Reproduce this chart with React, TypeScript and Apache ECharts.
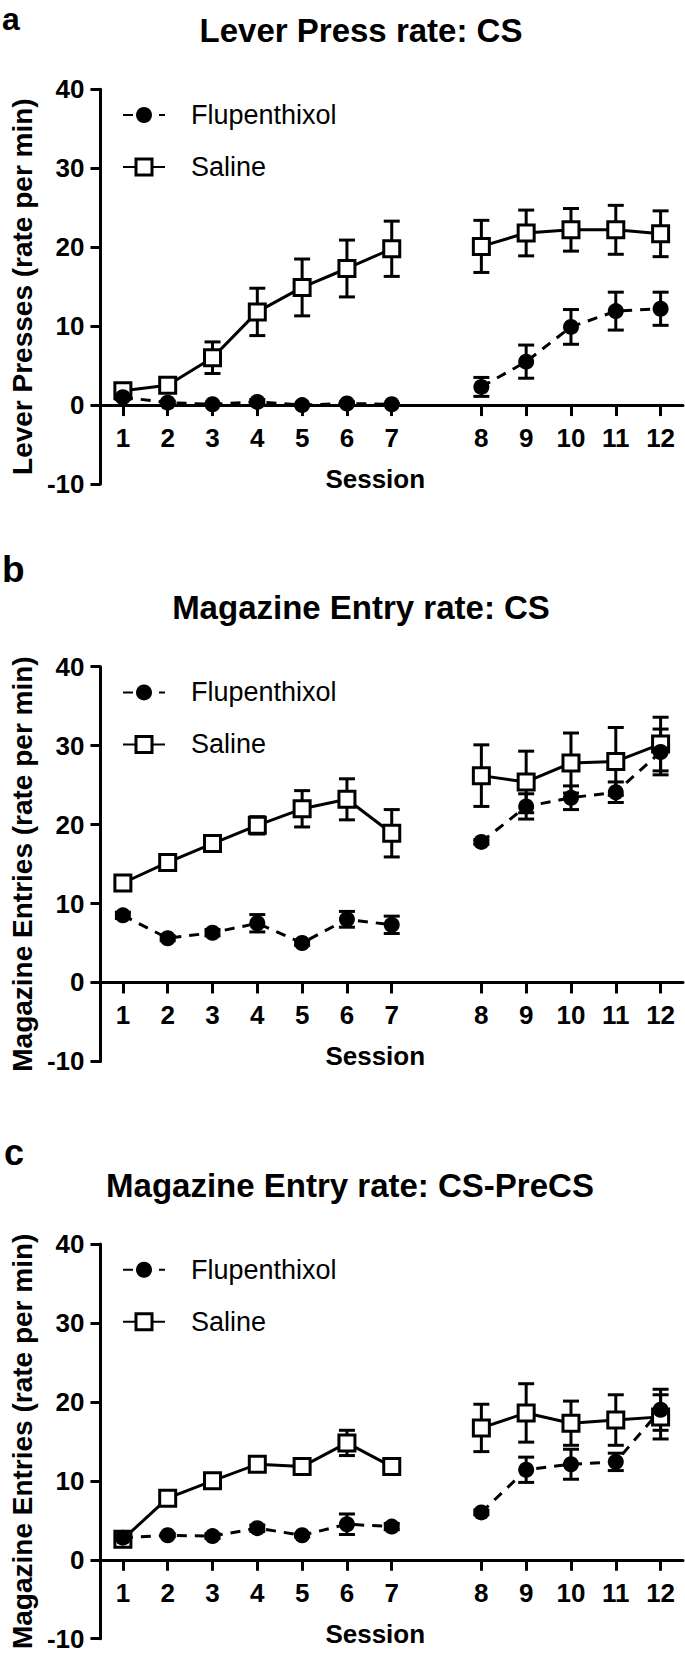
import React, { useEffect, useRef } from "react";
import * as echarts from "echarts";

// ---- Data ----
const sessions = ["1", "2", "3", "4", "5", "6", "7", "8", "9", "10", "11", "12"];
// category slots on the x axis: an empty slot separates session 7 from 8
const axisCategories = ["1", "2", "3", "4", "5", "6", "7", "", "8", "9", "10", "11", "12"];
const yMin = -10;
const yMax = 40;
const yInterval = 10;

const panelLetters = ["a", "b", "c"];
const panelTitles = ["Lever Press rate: CS", "Magazine Entry rate: CS", "Magazine Entry rate: CS-PreCS"];
const yAxisNames = ["Lever Presses (rate per min)", "Magazine Entries (rate per min)", "Magazine Entries (rate per min)"];
const xAxisName = "Session";
const seriesNames = ["Flupenthixol", "Saline"];

// Panel a: Lever Press rate, CS
const leverFlu = [1.0, 0.3, 0.1, 0.4, 0.0, 0.2, 0.1, 2.3, 5.5, 9.9, 11.9, 12.2];
const leverFluErr = [0.3, 0.2, 0.1, 0.3, 0.1, 0.2, 0.1, 1.2, 2.1, 2.2, 2.4, 2.1];
const leverSal = [1.8, 2.5, 6.0, 11.8, 14.9, 17.3, 19.8, 20.1, 21.8, 22.2, 22.2, 21.7];
const leverSalErr = [0.4, 0.5, 2.0, 3.0, 3.6, 3.6, 3.5, 3.3, 2.9, 2.7, 3.1, 2.9];

// Panel b: Magazine Entry rate, CS
const magFlu = [8.5, 5.6, 6.3, 7.5, 5.0, 8.0, 7.3, 17.8, 22.3, 23.4, 24.1, 29.2];
const magFluErr = [0.4, 0.3, 0.4, 1.1, 0.3, 1.0, 1.1, 0.3, 1.6, 1.5, 1.3, 2.9];
const magSal = [12.6, 15.2, 17.6, 19.9, 22.0, 23.2, 18.9, 26.2, 25.4, 27.8, 28.0, 30.2];
const magSalErr = [0.6, 0.8, 1.0, 1.1, 2.3, 2.6, 3.0, 3.9, 3.9, 3.8, 4.3, 3.4];

// Panel c: Magazine Entry rate, CS-PreCS
const precsFlu = [2.8, 3.1, 3.0, 4.0, 3.1, 4.5, 4.2, 6.0, 11.4, 12.1, 12.4, 19.0];
const precsFluErr = [0.2, 0.2, 0.3, 0.4, 0.2, 1.3, 0.4, 0.3, 1.6, 1.9, 1.1, 2.6];
const precsSal = [2.6, 7.8, 10.0, 12.1, 11.8, 14.8, 11.8, 16.7, 18.6, 17.3, 17.7, 18.1];
const precsSalErr = [0.3, 0.5, 0.6, 0.5, 1.0, 1.6, 0.9, 3.0, 3.7, 2.8, 3.2, 2.8];

const panelData = [
  { flu: leverFlu, fluErr: leverFluErr, sal: leverSal, salErr: leverSalErr },
  { flu: magFlu, fluErr: magFluErr, sal: magSal, salErr: magSalErr },
  { flu: precsFlu, fluErr: precsFluErr, sal: precsSal, salErr: precsSalErr },
];

// ---- Layout ----
const W = 685;
const H = 1659;
const FONT = '"Liberation Sans", Arial, Helvetica, sans-serif';
const panelOffsets = [0, 577.4, 1154.7];
const gridLeft = 88;
const gridRight = 2;
const gridTop = 89.3;
const gridHeight = 394.7;
// the x axis sits on y = 0: shift it up from the grid bottom by (0 - yMin) units
const xAxisOffset = -((0 - yMin) / (yMax - yMin)) * gridHeight;
const titleCenters = [361, 361, 350];
const sessionCenter = 369;
const letterStyle = [
  { x: 2, y: 18.5, size: 32 },
  { x: 2, y: 569.5, size: 37 },
  { x: 4, y: 1152, size: 36 },
];

const catIndex = (k: number) => (k < 7 ? k : k + 1);

const toCategorySeries = (vals: number[]) => {
  const out: (number | null)[] = axisCategories.map(() => null);
  sessions.forEach((_, k) => {
    out[catIndex(k)] = vals[k];
  });
  return out;
};

const toErrorData = (vals: number[], errs: number[]) =>
  sessions.map((_, k) => [catIndex(k), vals[k], errs[k]]);

const renderErrorBar = (params: any, api: any) => {
  const x = api.value(0);
  const y = api.value(1);
  const e = api.value(2);
  const top = api.coord([x, y + e]);
  const bot = api.coord([x, y - e]);
  const hw = 8;
  const st = { stroke: "#000", lineWidth: 3 };
  return {
    type: "group",
    children: [
      { type: "line", shape: { x1: top[0], y1: top[1], x2: bot[0], y2: bot[1] }, style: st },
      { type: "line", shape: { x1: top[0] - hw, y1: top[1], x2: top[0] + hw, y2: top[1] }, style: st },
      { type: "line", shape: { x1: bot[0] - hw, y1: bot[1], x2: bot[0] + hw, y2: bot[1] }, style: st },
    ],
  };
};

const buildOption = () => {
  const axisCenter = gridLeft + (W - gridLeft - gridRight) / 2;
  const grid = panelOffsets.map((o) => ({
    left: gridLeft,
    right: gridRight,
    top: gridTop + o,
    height: gridHeight,
    containLabel: false,
  }));

  const xAxis = panelOffsets.map((_, i) => ({
    type: "category",
    gridIndex: i,
    position: "bottom",
    offset: xAxisOffset,
    data: axisCategories,
    boundaryGap: true,
    axisLine: { show: true, onZero: false, lineStyle: { color: "#000", width: 3 } },
    axisTick: {
      show: true,
      alignWithLabel: true,
      interval: (idx: number, val: string) => val !== "",
      length: 11,
      lineStyle: { color: "#000", width: 3 },
    },
    axisLabel: {
      interval: 0,
      margin: 20,
      color: "#000",
      fontSize: 26,
      fontWeight: "bold",
      fontFamily: FONT,
    },
    splitLine: { show: false },
    name: xAxisName,
    nameLocation: "middle",
    nameGap: 61,
    nameTextStyle: {
      color: "#000",
      fontSize: 26,
      fontWeight: "bold",
      fontFamily: FONT,
      padding: [0, Math.max(0, 2 * (axisCenter - sessionCenter)), 0, 0],
    },
  }));

  const yAxis = panelOffsets.map((_, i) => ({
    type: "value",
    gridIndex: i,
    min: yMin,
    max: yMax,
    interval: yInterval,
    axisLine: { show: true, onZero: false, lineStyle: { color: "#000", width: 3 } },
    axisTick: { show: true, length: 10, lineStyle: { color: "#000", width: 3 } },
    axisLabel: { margin: 16, color: "#000", fontSize: 26, fontWeight: "bold", fontFamily: FONT },
    splitLine: { show: false },
    name: yAxisNames[i],
    nameLocation: "middle",
    nameGap: 62,
    nameTextStyle: { color: "#000", fontSize: 28, fontWeight: "bold", fontFamily: FONT },
  }));

  const series: any[] = [];
  panelData.forEach((d, i) => {
    series.push({
      type: "custom",
      xAxisIndex: i,
      yAxisIndex: i,
      data: toErrorData(d.sal, d.salErr),
      encode: { x: 0, y: 1 },
      renderItem: renderErrorBar,
      silent: true,
      z: 1,
    });
    series.push({
      type: "custom",
      xAxisIndex: i,
      yAxisIndex: i,
      data: toErrorData(d.flu, d.fluErr),
      encode: { x: 0, y: 1 },
      renderItem: renderErrorBar,
      silent: true,
      z: 1,
    });
    series.push({
      type: "line",
      name: seriesNames[1],
      xAxisIndex: i,
      yAxisIndex: i,
      data: toCategorySeries(d.sal),
      connectNulls: false,
      showAllSymbol: true,
      symbol: "rect",
      symbolSize: 16,
      itemStyle: { color: "#fff", borderColor: "#000", borderWidth: 3 },
      lineStyle: { color: "#000", width: 3, type: "solid" },
      z: 3,
    });
    series.push({
      type: "line",
      name: seriesNames[0],
      xAxisIndex: i,
      yAxisIndex: i,
      data: toCategorySeries(d.flu),
      connectNulls: false,
      showAllSymbol: true,
      symbol: "circle",
      symbolSize: 16,
      itemStyle: { color: "#000" },
      lineStyle: { color: "#000", width: 3, type: [10, 8] },
      z: 4,
    });
  });

  const legend = panelOffsets.map((o) => ({
    orient: "vertical",
    left: 122,
    top: 101.5 + o,
    padding: 0,
    itemWidth: 42,
    itemHeight: 20,
    itemGap: 25,
    selectedMode: false,
    textStyle: { color: "#000", fontSize: 27, fontFamily: FONT, padding: [0, 0, 0, 21] },
    data: [
      { name: seriesNames[0] },
      { name: seriesNames[1], itemStyle: { borderWidth: 3, borderColor: "#000", color: "#fff" } },
    ],
  }));

  const graphic: any[] = [];
  panelOffsets.forEach((o, i) => {
    graphic.push({
      type: "text",
      x: titleCenters[i],
      y: 30.4 + o,
      silent: true,
      style: {
        text: panelTitles[i],
        fontSize: 33,
        fontWeight: "bold",
        fontFamily: FONT,
        fill: "#000",
        align: "center",
        verticalAlign: "middle",
        textAlign: "center",
        textVerticalAlign: "middle",
      },
    });
    graphic.push({
      type: "text",
      x: letterStyle[i].x,
      y: letterStyle[i].y,
      silent: true,
      style: {
        text: panelLetters[i],
        fontSize: letterStyle[i].size,
        fontWeight: "bold",
        fontFamily: FONT,
        fill: "#000",
        align: "left",
        verticalAlign: "middle",
        textAlign: "left",
        textVerticalAlign: "middle",
      },
    });
  });

  return {
    animation: false,
    backgroundColor: "#fff",
    textStyle: { fontFamily: FONT, color: "#000" },
    grid,
    xAxis,
    yAxis,
    legend,
    series,
    graphic,
  };
};

export default function App() {
  const ref = useRef<HTMLDivElement>(null);
  useEffect(() => {
    if (!ref.current) return;
    const chart = echarts.init(ref.current, undefined, { renderer: "svg", width: W, height: H });
    chart.setOption(buildOption() as any);
    return () => {
      chart.dispose();
    };
  }, []);
  return (
    <div
      ref={ref}
      style={{
        position: "absolute",
        left: 0,
        top: 0,
        width: W,
        height: H,
        background: "#fff",
      }}
    />
  );
}
